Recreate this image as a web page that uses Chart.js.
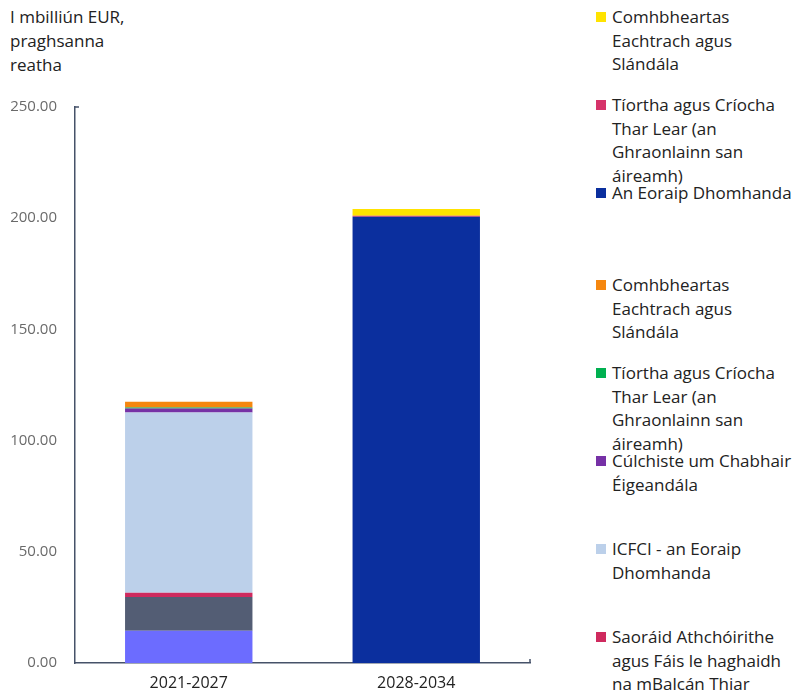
<!DOCTYPE html>
<html>
<head>
<meta charset="utf-8">
<script src="https://cdn.jsdelivr.net/npm/chart.js@4/dist/chart.umd.min.js"></script>
<style>
  body { margin: 0; background: #fff; font-family: "Open Sans", sans-serif; }
  #wrap { position: relative; width: 796px; height: 693px; overflow: hidden; }
  #chartBox { position: absolute; left: 0; top: 0; width: 540px; height: 693px; }
  #unit { position: absolute; left: 10px; top: 5px; font-size: 17px; line-height: 24px; color: #222; }
  #legend { position: absolute; left: 596px; top: 5px; width: 200px; height: 688px; overflow: hidden; }
  .item { position: relative; height: 88px; padding-left: 16px; font-size: 17px; line-height: 23.5px; color: #222; white-space: nowrap; }
  .item.tall { height: 92px; }
  .box { position: absolute; left: 0; top: 7px; width: 10px; height: 10px; }
</style>
</head>
<body>
<div id="wrap">
  <div id="unit">I mbilliún EUR,<br>praghsanna<br>reatha</div>
  <div id="chartBox"><canvas id="c"></canvas></div>
  <div id="legend"></div>
</div>
<script>
// categories and y ticks
const periods = ['2021-2027', '2028-2034'];
const yTicks = [0, 50, 100, 150, 200, 250];

// series, bottom of the stack first
const seriesNames = [
  ['Cúnamh Réamhaontachais'],
  ['Cabhair Dhaonnúil'],
  ['Saoráid Athchóirithe', 'agus Fáis le haghaidh', 'na mBalcán Thiar'],
  ['ICFCI - an Eoraip', 'Dhomhanda'],
  ['Cúlchiste um Chabhair', 'Éigeandála'],
  ['Tíortha agus Críocha', 'Thar Lear (an', 'Ghraonlainn san', 'áireamh)'],
  ['Comhbheartas', 'Eachtrach agus', 'Slándála'],
  ['An Eoraip Dhomhanda'],
  ['Tíortha agus Críocha', 'Thar Lear (an', 'Ghraonlainn san', 'áireamh)'],
  ['Comhbheartas', 'Eachtrach agus', 'Slándála']
];
const seriesColors = ['#6c6cff', '#535d74', '#cf2a5e', '#bcd0ea', '#7631a6', '#00b050',
                      '#f5870f', '#0b2f9e', '#d6336a', '#ffe300'];

const ipaValues       = [14.5, 0];
const humanValues     = [15.2, 0];
const balkanValues    = [1.9, 0];
const ndiciValues     = [81.0, 0];
const reserveValues   = [1.8, 0];
const octOldValues    = [0.5, 0];
const cfspOldValues   = [2.6, 0];
const globalValues    = [0, 200.6];
const octNewValues    = [0, 0.5];
const cfspNewValues   = [0, 3.0];

const seriesValues = [ipaValues, humanValues, balkanValues, ndiciValues, reserveValues,
                      octOldValues, cfspOldValues, globalValues, octNewValues, cfspNewValues];

const axisColor = '#465269';

const datasets = seriesValues.map((vals, i) => ({
  label: seriesNames[i].join(' '),
  data: vals,
  backgroundColor: seriesColors[i],
  borderWidth: 0,
  barPercentage: 0.56,
  categoryPercentage: 1.0
}));

// small caps at axis ends
const axisCaps = {
  id: 'axisCaps',
  afterDraw(chart) {
    const a = chart.chartArea, ctx = chart.ctx;
    ctx.save();
    ctx.strokeStyle = axisColor;
    ctx.lineWidth = 1.5;
    ctx.beginPath();
    ctx.moveTo(a.left, a.top); ctx.lineTo(a.left + 4, a.top);
    ctx.moveTo(a.right, a.bottom); ctx.lineTo(a.right, a.bottom - 4);
    ctx.stroke();
    ctx.restore();
  }
};

new Chart(document.getElementById('c'), {
  type: 'bar',
  data: { labels: periods, datasets: datasets },
  options: {
    responsive: true,
    maintainAspectRatio: false,
    animation: false,
    layout: { padding: { top: 107, right: 10, left: 0, bottom: 0 } },
    plugins: { legend: { display: false }, tooltip: { enabled: false } },
    scales: {
      x: {
        stacked: true,
        grid: { display: false },
        border: { color: axisColor, width: 1.5 },
        ticks: { color: '#222', font: { family: 'Open Sans', size: 16 }, padding: 3 },
        afterFit(s) { s.height = 30; }
      },
      y: {
        stacked: true,
        min: 0, max: 250,
        grid: { display: false },
        border: { color: axisColor, width: 1.5 },
        afterBuildTicks(s) { s.ticks = yTicks.map(v => ({ value: v })); },
        ticks: {
          color: '#6a6a6a',
          font: { family: 'Open Sans', size: 15 },
          padding: 10,
          callback: v => v.toFixed(2)
        },
        afterFit(s) { s.width = 75; }
      }
    }
  },
  plugins: [axisCaps]
});

// legend, top of the stack first
const legend = document.getElementById('legend');
for (let i = seriesNames.length - 1; i >= 0; i--) {
  const item = document.createElement('div');
  item.className = 'item' + (i === 7 ? ' tall' : '');
  const box = document.createElement('span');
  box.className = 'box';
  box.style.background = seriesColors[i];
  item.appendChild(box);
  item.innerHTML += seriesNames[i].join('<br>');
  legend.appendChild(item);
}
</script>
</body>
</html>
